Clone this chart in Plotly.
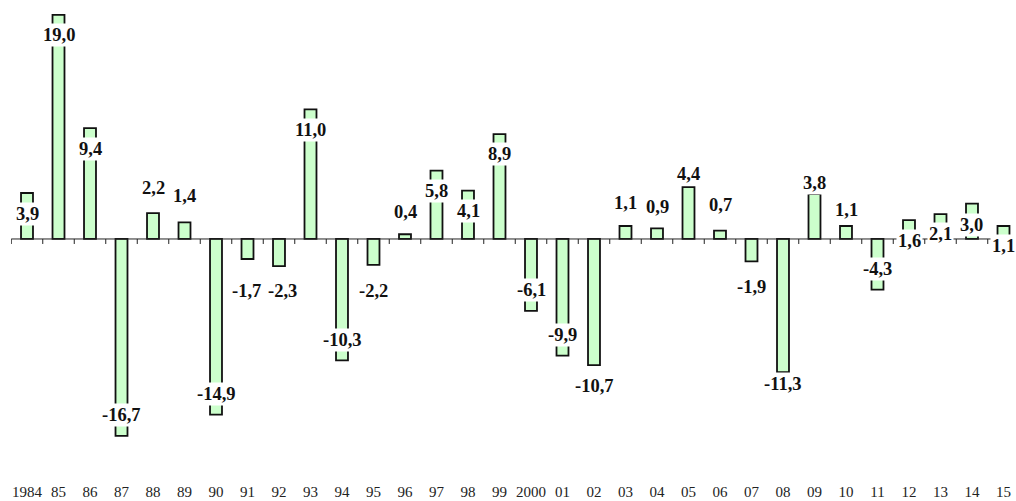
import plotly.graph_objects as go

# Year labels along the category axis
years = ['1984', '85', '86', '87', '88', '89', '90', '91', '92', '93', '94', '95',
         '96', '97', '98', '99', '2000', '01', '02', '03', '04', '05', '06', '07',
         '08', '09', '10', '11', '12', '13', '14', '15']

# Annual change, per cent
values = [3.9, 19.0, 9.4, -16.7, 2.2, 1.4, -14.9, -1.7, -2.3, 11.0, -10.3, -2.2,
          0.4, 5.8, 4.1, 8.9, -6.1, -9.9, -10.7, 1.1, 0.9, 4.4, 0.7, -1.9,
          -11.3, 3.8, 1.1, -4.3, 1.6, 2.1, 3.0, 1.1]

# Vertical placement of each value label (in axis units)
label_y = [2.12, 17.26, 7.66, -14.89, 4.33, 3.66, -13.16, -4.39, -4.39, 9.25,
           -8.54, -4.44, 2.32, 4.05, 2.39, 7.17, -4.33, -8.17, -12.48, 3.07,
           2.7, 5.53, 2.87, -4.06, -12.31, 4.71, 2.44, -2.56, -0.13, 0.38,
           1.2, -0.6]

# Horizontal nudges (px) for crowded labels
label_nudge = {'91': -1, '92': 3}

FILL = '#CCFFCC'
SERIF = 'Liberation Serif, Times New Roman, serif'

fig = go.Figure()
fig.add_trace(go.Bar(
    x=years,
    y=values,
    marker=dict(color=FILL, line=dict(color='#111111', width=1.8)),
    hoverinfo='skip',
))

# Baseline through zero with tick marks between categories
shapes = [dict(type='line', xref='x', yref='y', x0=-0.5, x1=len(years) - 0.5,
               y0=0, y1=0, line=dict(color='#222222', width=1))]
for k in range(len(years) + 1):
    shapes.append(dict(type='line', xref='x', yref='y', ysizemode='pixel',
                       yanchor=0, x0=k - 0.5, x1=k - 0.5, y0=0, y1=-5,
                       line=dict(color='#222222', width=1)))

annotations = []
for i, (yr, v, ly) in enumerate(zip(years, values, label_y)):
    annotations.append(dict(
        x=i, y=ly, xref='x', yref='y',
        text=f'{v:.1f}'.replace('.', ','),
        showarrow=False,
        xanchor='center', yanchor='middle',
        xshift=label_nudge.get(yr, 0),
        bgcolor='white', borderpad=1,
        font=dict(family=SERIF, size=18.5, color='#111111', weight='bold'),
    ))

fig.update_layout(
    width=1016, height=501,
    margin=dict(l=11, r=0, t=0, b=26),
    paper_bgcolor='white', plot_bgcolor='white',
    showlegend=False,
    bargap=0.62,
    shapes=shapes,
    annotations=annotations,
    xaxis=dict(type='category', range=[-0.508, 31.397], showline=False,
               showgrid=False, zeroline=False, ticks='',
               tickfont=dict(family=SERIF, size=15, color='#222222'),
               ticklabelstandoff=6),
    yaxis=dict(range=[-20.02, 20.27], visible=False, showgrid=False,
               zeroline=False),
)

fig.write_html('out.html')
